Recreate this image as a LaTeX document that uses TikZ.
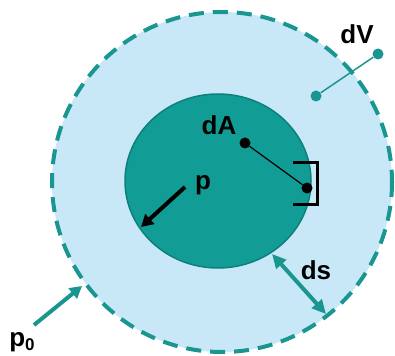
\documentclass[tikz,border=0pt]{standalone}
\usepackage{fontspec}
\setmainfont{Liberation Sans}
\usetikzlibrary{arrows.meta}
\definecolor{skyfill}{RGB}{200,232,248}
\definecolor{tealcore}{RGB}{18,156,150}
\definecolor{tealedge}{RGB}{14,128,124}
\definecolor{tealline}{RGB}{26,150,144}
\tikzset{
  lbl/.style={font=\fontsize{26}{30}\selectfont\bfseries, inner sep=0pt},
  bigdot/.style={circle, fill=#1, minimum size=11pt, inner sep=0pt},
  tealarrow/.style={draw=tealline, line width=4pt, -{Triangle[length=12pt,width=13pt]}},
}
\begin{document}
\begin{tikzpicture}[x=1pt,y=-1pt]
\useasboundingbox (0,0) rectangle (395,355);
% outer control surface
\fill[skyfill] (222,182) circle (170);
% inner body
\draw[fill=tealcore, draw=tealedge, line width=1.5pt]
  (218,181) ellipse [x radius=93, y radius=87];
\draw[tealline, line width=4pt, dash pattern=on 15pt off 9pt] (222,182) circle (170);
% volume element
\node[bigdot=tealline] (v1) at (316,96) {};
\node[bigdot=tealline] (v2) at (378,54) {};
\draw[tealline, line width=1.5pt] (v1) -- (v2);
\node[lbl] (dV) at (357,34) {dV};
% area element
\node[bigdot=black] (a1) at (245,143) {};
\node[bigdot=black] (a2) at (307,188) {};
\draw[black, line width=1.2pt] (a1) -- (a2);
\node[lbl] (dA) at (219,125) {dA};
\draw[black, line width=3pt] (293,163) -- (317,163) -- (317,204) -- (293,204);
% internal pressure
\coordinate (pt) at (185,187);
\coordinate (ph) at (141,227);
\draw[black, line width=4pt, -{Triangle[length=12pt,width=13pt]}] (pt) -- (ph);
\node[lbl] (p) at (203,185) {p};
% ambient pressure
\coordinate (p0t) at (34,325);
\coordinate (p0h) at (82,286);
\draw[tealarrow] (p0t) -- (p0h);
\node[lbl] (p0) at (22,342) {p\raisebox{-0.15em}{\fontsize{17}{20}\selectfont 0}};
% thickness
\coordinate (ds1) at (272,254);
\coordinate (ds2) at (326,314);
\draw[draw=tealline, line width=4pt, {Triangle[length=14pt,width=13pt]}-{Triangle[length=14pt,width=13pt]}] (ds1) -- (ds2);
\node[lbl] (ds) at (316,270) {ds};
\end{tikzpicture}
\end{document}
